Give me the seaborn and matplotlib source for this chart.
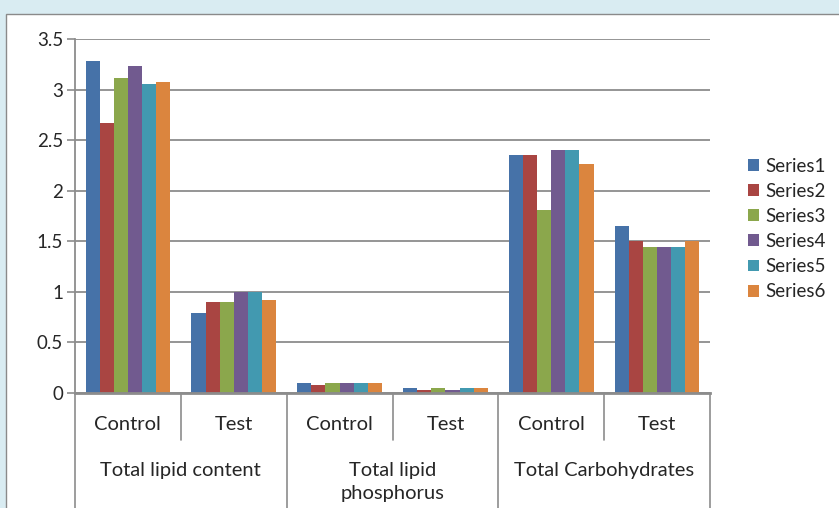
"""Clustered bar chart: lipid and carbohydrate content, control vs test."""

import matplotlib
matplotlib.use("Agg")
import matplotlib.pyplot as plt
import pandas as pd
import seaborn as sns
from matplotlib.patches import Rectangle

MEASURES = ["Total lipid content", "Total lipid\nphosphorus", "Total Carbohydrates"]
CONDITIONS = ["Control", "Test"]
SERIES = ["Series1", "Series2", "Series3", "Series4", "Series5", "Series6"]

# one list per series, in order: lipid control, lipid test, phosphorus control,
# phosphorus test, carbohydrates control, carbohydrates test
SERIES1 = [3.28, 0.79, 0.10, 0.05, 2.35, 1.65]
SERIES2 = [2.67, 0.90, 0.08, 0.03, 2.35, 1.50]
SERIES3 = [3.11, 0.90, 0.10, 0.05, 1.81, 1.44]
SERIES4 = [3.23, 1.00, 0.10, 0.03, 2.40, 1.44]
SERIES5 = [3.06, 1.00, 0.10, 0.05, 2.40, 1.44]
SERIES6 = [3.07, 0.92, 0.10, 0.05, 2.26, 1.50]

Y_TICKS = [0, 0.5, 1, 1.5, 2, 2.5, 3, 3.5]
COLORS = ["#4672a8", "#a94542", "#8ba74c", "#715a8f", "#4299b0", "#db853e"]

FIG_W, FIG_H = 839, 508
GRID = "#8c8c8c"
TEXT = "#262626"
FONT_SIZE = 13.5
LABEL_SIZE = 14.5


def build_frame() -> pd.DataFrame:
    groups = [f"{m} {c}" for m in MEASURES for c in CONDITIONS]
    rows = []
    for name, values in zip(SERIES, [SERIES1, SERIES2, SERIES3, SERIES4, SERIES5, SERIES6]):
        for group, value in zip(groups, values):
            rows.append({"group": group, "series": name, "value": value})
    return pd.DataFrame(rows), groups


def main() -> None:
    frame, groups = build_frame()

    sns.set_theme(style="white")
    plt.rcParams["font.family"] = ["Lato", "DejaVu Sans"]

    fig = plt.figure(figsize=(FIG_W / 100, FIG_H / 100), dpi=100)
    fig.patch.set_facecolor("#d9ecf2")
    # white chart area with thin grey frame
    fig.patches.append(
        Rectangle((6 / FIG_W, -0.1), 1.0, (FIG_H - 14) / FIG_H + 0.1,
                  transform=fig.transFigure, facecolor="white",
                  edgecolor="#8a8a8a", linewidth=1.0, zorder=-5)
    )

    left, right, top, bottom = 75, 710, 39, 393
    ax = fig.add_axes([left / FIG_W, (FIG_H - bottom) / FIG_H,
                       (right - left) / FIG_W, (bottom - top) / FIG_H])
    ax.set_facecolor("none")
    ax.set_zorder(2)

    sns.barplot(data=frame, x="group", y="value", hue="series", order=groups,
                hue_order=SERIES, palette=COLORS, saturation=1, width=0.8,
                gap=0, errorbar=None, linewidth=0, ax=ax)

    ax.set_ylim(0, 3.5)
    ax.set_xlim(-0.5, len(groups) - 0.5)
    ax.set_yticks(Y_TICKS)
    ax.set_yticklabels([f"{t:g}" for t in Y_TICKS], fontsize=FONT_SIZE, color=TEXT)
    ax.set_xticks([])
    ax.set_xlabel("")
    ax.set_ylabel("")
    ax.yaxis.grid(True, color=GRID, linewidth=1.3)
    ax.set_axisbelow(True)
    ax.tick_params(axis="y", length=5.5, width=1.2, color=GRID, pad=3, left=True)
    for side in ("top", "right"):
        ax.spines[side].set_visible(False)
    ax.spines["left"].set_color(GRID)
    ax.spines["left"].set_linewidth(1.3)
    ax.spines["bottom"].set_color(GRID)
    ax.spines["bottom"].set_linewidth(2.0)

    # category axis labels and dividers
    trans = ax.get_xaxis_transform()
    height = bottom - top
    for i, group in enumerate(groups):
        condition = CONDITIONS[i % 2]
        ax.text(i, -32 / height, condition, transform=trans, ha="center",
                va="center", fontsize=LABEL_SIZE, color=TEXT)
    for j, measure in enumerate(MEASURES):
        ax.text(2 * j + 0.5, -69 / height, measure, transform=trans, ha="center",
                va="top", fontsize=LABEL_SIZE, color=TEXT, linespacing=1.4)
        ax.plot([2 * j + 0.5] * 2, [0, -47 / height], transform=trans,
                color=GRID, linewidth=1.2, clip_on=False)
    for k in range(len(MEASURES) + 1):
        ax.plot([2 * k - 0.5] * 2, [0, -0.5], transform=trans,
                color=GRID, linewidth=1.2, clip_on=False)

    handles, labels = ax.get_legend_handles_labels()
    ax.legend(handles, labels, loc="center left",
              bbox_to_anchor=(748 / FIG_W, (FIG_H - 229) / FIG_H),
              bbox_transform=fig.transFigure, frameon=False, fontsize=FONT_SIZE,
              handlelength=0.6, handleheight=0.6, handletextpad=0.35,
              labelspacing=0.43, borderaxespad=0, borderpad=0)

    fig.savefig("out.png", dpi=100)
    plt.close(fig)


if __name__ == "__main__":
    main()
